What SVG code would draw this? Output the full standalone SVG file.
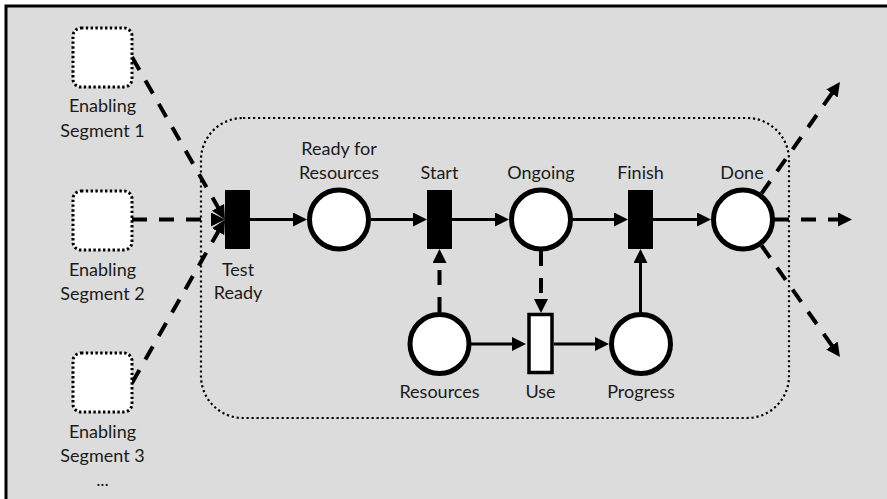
<svg xmlns="http://www.w3.org/2000/svg" width="887" height="499" viewBox="0 0 887 499">
<defs>
<marker id="ah" markerUnits="userSpaceOnUse" markerWidth="14" markerHeight="14" refX="4" refY="7" orient="auto">
<path d="M0,0 L14,7 L0,14 z" fill="#000"/>
</marker>
<style>
.lbl{font-family:Lato,"Open Sans","Liberation Sans",sans-serif;font-size:18px;fill:#1a1a1a;text-anchor:middle}
.seg{fill:#fff;stroke:#000;stroke-width:3;stroke-dasharray:2.4 2.4}
.place{fill:#fff;stroke:#000;stroke-width:5}
.trans{fill:#000}
.solid{stroke:#000;stroke-width:3;fill:none;marker-end:url(#ah)}
.dash{stroke:#000;stroke-width:4;fill:none;stroke-dasharray:15 12;marker-end:url(#ah)}
</style>
</defs>
<rect x="0" y="0" width="887" height="499" fill="#fff"/>
<rect x="7" y="7" width="880" height="492" fill="#dcdcdc"/>
<path d="M6,499 V6 H887" fill="none" stroke="#000" stroke-width="3"/>
<rect x="201" y="118" width="588" height="300" rx="42" fill="none" stroke="#000" stroke-width="2.2" stroke-dasharray="2.2 2.8"/>
<g id="connectors">
<line class="dash" x1="132" y1="57" x2="220" y2="210.8"/>
<line class="dash" x1="132" y1="219.5" x2="215" y2="219.5"/>
<line class="dash" x1="132" y1="383" x2="220.1" y2="228.2"/>
<line class="solid" x1="250" y1="219.5" x2="297" y2="219.5"/>
<line class="solid" x1="371" y1="219.5" x2="417" y2="219.5"/>
<line class="solid" x1="452" y1="219.5" x2="499" y2="219.5"/>
<line class="solid" x1="573" y1="219.5" x2="618" y2="219.5"/>
<line class="solid" x1="653" y1="219.5" x2="701" y2="219.5"/>
<line class="solid" x1="471" y1="344" x2="516" y2="344"/>
<line class="solid" x1="554" y1="344" x2="599" y2="344"/>
<line class="solid" x1="640.5" y1="312" x2="640.5" y2="259"/>
<line class="dash" x1="439.5" y1="312" x2="439.5" y2="259"/>
<line class="dash" x1="541" y1="251" x2="541" y2="303"/>
<line class="dash" x1="761.5" y1="193.5" x2="834.2" y2="90.2"/>
<line class="dash" x1="774" y1="219.5" x2="842" y2="219.5"/>
<line class="dash" x1="761.5" y1="245.5" x2="834.2" y2="348.8"/>
</g>
<g id="seg1"><rect class="seg" x="73" y="28" width="59" height="59" rx="8"/><text class="lbl" x="102.5" y="112">Enabling</text><text class="lbl" x="102.5" y="137">Segment 1</text></g>
<g id="seg2"><rect class="seg" x="73" y="191" width="59" height="59" rx="8"/><text class="lbl" x="102.5" y="276">Enabling</text><text class="lbl" x="102.5" y="300">Segment 2</text></g>
<g id="seg3"><rect class="seg" x="73" y="353" width="59" height="59" rx="8"/><text class="lbl" x="102.5" y="438">Enabling</text><text class="lbl" x="102.5" y="462">Segment 3</text><text class="lbl" x="102.5" y="486">...</text></g>
<g id="testReady"><rect class="trans" x="225" y="190" width="25" height="59"/><text class="lbl" x="238" y="276">Test</text><text class="lbl" x="238" y="299">Ready</text></g>
<g id="readyForResources"><circle class="place" cx="339" cy="219.5" r="29.5"/><text class="lbl" x="339" y="155">Ready for</text><text class="lbl" x="339" y="179">Resources</text></g>
<g id="start"><rect class="trans" x="427" y="190" width="25" height="59"/><text class="lbl" x="439.5" y="179">Start</text></g>
<g id="ongoing"><circle class="place" cx="541" cy="219.5" r="29.5"/><text class="lbl" x="541" y="179">Ongoing</text></g>
<g id="finish"><rect class="trans" x="628" y="190" width="25" height="59"/><text class="lbl" x="640.5" y="179">Finish</text></g>
<g id="done"><circle class="place" cx="743" cy="219.5" r="29.5"/><text class="lbl" x="742" y="179">Done</text></g>
<g id="resources"><circle class="place" cx="439.5" cy="344" r="29.5"/><text class="lbl" x="439.5" y="398">Resources</text></g>
<g id="use"><rect x="529" y="314.5" width="23" height="58" fill="#fff" stroke="#000" stroke-width="3.5"/><text class="lbl" x="540.5" y="398">Use</text></g>
<g id="progress"><circle class="place" cx="641" cy="344" r="29.5"/><text class="lbl" x="641" y="398">Progress</text></g>
</svg>
